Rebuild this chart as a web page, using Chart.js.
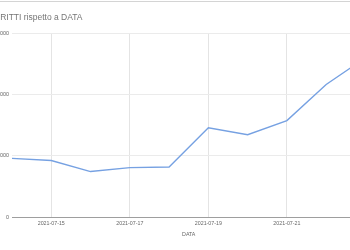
<!DOCTYPE html>
<html>
<head>
<meta charset="utf-8">
<script src="https://cdn.jsdelivr.net/npm/chart.js@4"></script>
<style>
  html, body { margin: 0; padding: 0; background: #fff; overflow: hidden; width: 350px; height: 250px; }
  #sheet-edge { position: absolute; left: 0; top: 0; width: 350px; height: 1px; border-bottom: 1px solid #d4d4d4; }
  #chart { position: absolute; left: -30px; top: 0; }
</style>
</head>
<body>
<div id="sheet-edge"></div>
<canvas id="chart" width="412" height="250"></canvas>
<script>
const dates  = ['2021-07-14', '2021-07-15', '2021-07-16', '2021-07-17', '2021-07-18',
                '2021-07-19', '2021-07-20', '2021-07-21', '2021-07-22', '2021-07-23'];
const iscritti = [960, 925, 745, 810, 820, 1460, 1345, 1575, 2165, 2600];
const yTicks = [0, 1000, 2000, 3000];

const FONT = 'Arial, "Liberation Sans", sans-serif';

new Chart(document.getElementById('chart').getContext('2d'), {
  type: 'line',
  data: {
    labels: dates,
    datasets: [{
      label: 'ISCRITTI',
      data: iscritti,
      borderColor: '#76a1e2',
      borderWidth: 1.4,
      pointRadius: 0,
      tension: 0,
      fill: false,
    }],
  },
  options: {
    responsive: false,
    animation: false,
    devicePixelRatio: 1,
    layout: { padding: { left: 16, right: 0, top: 0, bottom: 12 } },
    plugins: {
      legend: { display: false },
      tooltip: { enabled: false },
      title: {
        display: true,
        text: 'ISCRITTI rispetto a DATA',
        align: 'start',
        color: '#757575',
        font: { family: FONT, size: 8.5, weight: 'normal' },
        padding: { top: 13, bottom: 10 },
      },
    },
    scales: {
      x: {
        offset: false,
        border: { display: true, color: '#9e9e9e', width: 1 },
        grid: {
          drawTicks: false,
          color: ctx => ctx.index % 2 === 1 ? '#e4e4e4' : 'rgba(0,0,0,0)',
        },
        ticks: {
          autoSkip: false,
          maxRotation: 0,
          padding: 3,
          color: '#666',
          font: { family: FONT, size: 5.3 },
          callback: (v, i) => i % 2 === 1 ? dates[i] : '',
        },
        title: {
          display: true,
          text: 'DATA',
          color: '#666',
          font: { family: FONT, size: 5.3 },
          padding: { top: 2, bottom: 0 },
        },
      },
      y: {
        min: yTicks[0],
        max: yTicks[yTicks.length - 1],
        afterBuildTicks: axis => { axis.ticks = yTicks.map(v => ({ value: v })); },
        afterFit: axis => { axis.width = 26; },
        border: { display: false },
        grid: {
          drawTicks: false,
          color: ctx => ctx.tick && ctx.tick.value === 0 ? '#9e9e9e' : '#ebebeb',
        },
        ticks: {
          padding: 3,
          color: '#666',
          font: { family: FONT, size: 5.4 },
        },
      },
    },
  },
});
</script>
</body>
</html>
